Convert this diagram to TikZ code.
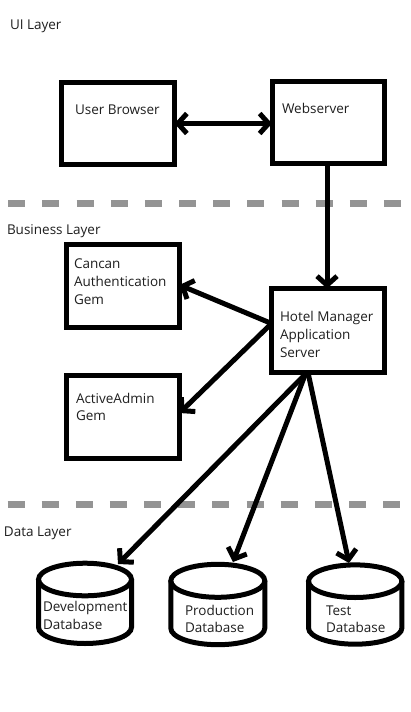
\documentclass[tikz,border=0pt]{standalone}
\usepackage{fontspec}
\setmainfont{Open Sans}
\usetikzlibrary{arrows.meta,calc}
\tikzset{
  box/.style={draw=black, line width=5pt, inner sep=0pt, outer sep=0pt},
  lbl/.style={inner sep=0pt, outer sep=0pt, anchor=base west, align=left, text=black!88,
    font=\fontsize{13.5pt}{17.7pt}\selectfont},
  arr/.style={line width=5pt, -{Straight Barb[length=9pt,width=20pt]}},
  darr/.style={line width=5pt, {Straight Barb[length=9pt,width=20pt]}-{Straight Barb[length=9pt,width=20pt]}},
  layerline/.style={draw=black!42, line width=7pt, dash pattern=on 17pt off 17.15pt},
  cyl/.style={draw=black, line width=5pt},
}
\begin{document}
\begin{tikzpicture}[x=1pt,y=-1pt]
\useasboundingbox[fill=white] (0,0) rectangle (411,712);

% layer labels
\node[lbl] (uil) at (10,29) {UI Layer};
\node[lbl] (bsl) at (7,234) {Business Layer};
\node[lbl] (dtl) at (4,536) {Data Layer};

% dashed separators
\coordinate (d1a) at (8.3,203);
\coordinate (d1b) at (402,203);
\coordinate (d2a) at (7.5,504);
\coordinate (d2b) at (402,504);
\draw[layerline] (d1a) -- (d1b);
\draw[layerline] (d2a) -- (d2b);

% boxes
\node[box, minimum width=113pt, minimum height=82pt] (ubox) at (118,123.5) {};
\node[box, minimum width=112pt, minimum height=82pt] (wbox) at (328,122) {};
\node[box, minimum width=113pt, minimum height=83pt] (cbox) at (123,286) {};
\node[box, minimum width=113pt, minimum height=84pt] (hbox) at (328,330.5) {};
\node[box, minimum width=113pt, minimum height=83pt] (abox) at (123,417) {};

% box texts (multi-line nodes: base = last line)
\node[lbl] (ubt) at (75,114) {User Browser};
\node[lbl] (wbt) at (282,113) {Webserver};
\node[lbl] (cbt) at (74,304) {Cancan\\Authentication\\Gem};
\node[lbl] (hbt) at (280,357) {Hotel Manager\\Application\\Server};
\node[lbl] (abt) at (76,420.7) {ActiveAdmin\\Gem};

% cylinders
\draw[cyl] (85,579.5) ellipse [x radius=46.5pt, y radius=16.3pt];
\draw[cyl] (38.5,579.5) -- (38.5,627.2) arc[start angle=180, end angle=360, x radius=46.5pt, y radius=16.3pt] -- (131.5,579.5);
\draw[cyl] (217.8,580.8) ellipse [x radius=47pt, y radius=16.5pt];
\draw[cyl] (170.8,580.8) -- (170.8,628.2) arc[start angle=180, end angle=360, x radius=47pt, y radius=16.5pt] -- (264.8,580.8);
\draw[cyl] (355.2,581.2) ellipse [x radius=46.7pt, y radius=16.3pt];
\draw[cyl] (308.5,581.2) -- (308.5,627.9) arc[start angle=180, end angle=360, x radius=46.7pt, y radius=16.3pt] -- (401.9,581.2);

\node[lbl] (devt) at (43,629.3) {Development\\Database};
\node[lbl] (prodt) at (185,632.7) {Production\\Database};
\node[lbl] (testt) at (326,632.7) {Test\\Database};

\coordinate (devtop) at (118,564);
\coordinate (prodtop) at (233,562);
\coordinate (testtop) at (349,563);

% connectors
\draw[darr] (ubox.east) -- (ubox.east -| wbox.west);
\draw[arr] ([xshift=-1pt]wbox.south) -- ([xshift=-1pt]hbox.north);
\draw[arr] ([yshift=7pt]hbox.west) -- ([yshift=1pt]cbox.east);
\draw[arr] ([yshift=7pt]hbox.west) -- ([yshift=4pt]abox.east);
\draw[arr] ([xshift=-21pt]hbox.south) -- (devtop);
\draw[arr] ([xshift=-22pt]hbox.south) -- (prodtop);
\draw[arr] ([xshift=-20pt]hbox.south) -- (testtop);
\end{tikzpicture}
\end{document}
